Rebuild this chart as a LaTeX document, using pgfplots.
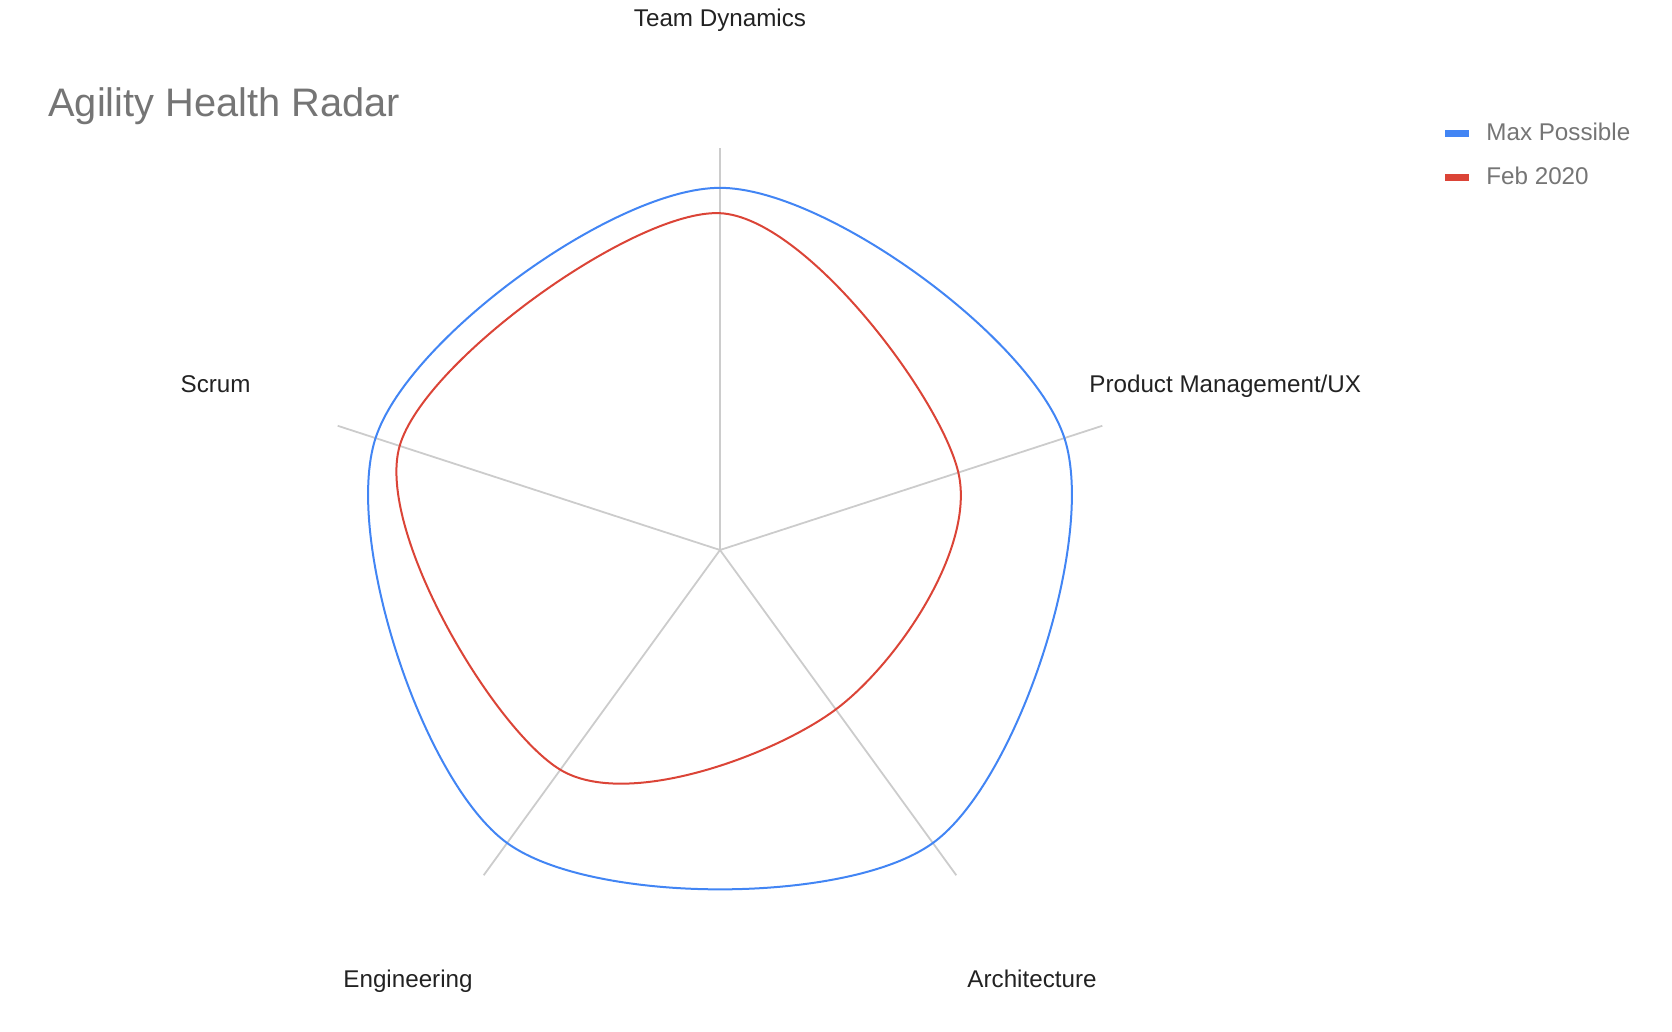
\documentclass[border=0pt]{standalone}
\usepackage{pgfplots}
\pgfplotsset{compat=1.18}
\usepgfplotslibrary{polar}
\usepackage{fontspec}
\setmainfont{Liberation Sans}
\definecolor{maxblue}{HTML}{4285F4}
\definecolor{febred}{HTML}{DB4437}
\definecolor{spoke}{HTML}{CCCCCC}
\definecolor{titlegray}{HTML}{757575}
\definecolor{labelblack}{HTML}{222222}
\begin{document}
\begin{tikzpicture}
\path[use as bounding box] (0pt,0pt) rectangle (836pt,-516pt);
\begin{polaraxis}[
  at={(360pt,-275pt)}, anchor=origin,
  scale only axis, width=402pt, height=402pt,
  ymin=0, ymax=5.55,
  hide axis, clip=false,
]
\addplot[spoke, line width=0.9pt] coordinates {(90,0) (90,5.55)};
\addplot[spoke, line width=0.9pt] coordinates {(18,0) (18,5.55)};
\addplot[spoke, line width=0.9pt] coordinates {(-54,0) (-54,5.55)};
\addplot[spoke, line width=0.9pt] coordinates {(-126,0) (-126,5.55)};
\addplot[spoke, line width=0.9pt] coordinates {(-198,0) (-198,5.55)};
% Max Possible
\addplot[maxblue, line width=1pt, smooth cycle, tension=0.55] coordinates {
  (90,5) (18,5) (-54,5) (-126,5) (-198,5)
};
% Feb 2020
\addplot[febred, line width=1pt, smooth cycle, tension=0.55] coordinates {
  (90,4.65) (18,3.46) (-54,2.72) (-126,3.75) (-198,4.65)
};
\end{polaraxis}
\node[anchor=base west, inner sep=0pt, text=titlegray, font=\fontsize{19.9pt}{23pt}\selectfont] at (24pt,-58.5pt) {Agility Health Radar};
\begin{scope}[every node/.style={inner sep=0pt, text=labelblack, font=\fontsize{12.1pt}{14pt}\selectfont}]
\node[anchor=base] at (360pt,-13.5pt) {Team Dynamics};
\node[anchor=base west] at (544.5pt,-196.5pt) {Product Management/UX};
\node[anchor=base east] at (125.5pt,-196.5pt) {Scrum};
\node[anchor=base] at (204pt,-493.5pt) {Engineering};
\node[anchor=base] at (516pt,-493.5pt) {Architecture};
\end{scope}
\draw[maxblue, line width=3.5pt] (722.5pt,-67pt) -- (734.5pt,-67pt);
\draw[febred, line width=3.5pt] (722.5pt,-89pt) -- (734.5pt,-89pt);
\node[anchor=base west, inner sep=0pt, text=titlegray, font=\fontsize{12.1pt}{14pt}\selectfont] at (743pt,-70.5pt) {Max Possible};
\node[anchor=base west, inner sep=0pt, text=titlegray, font=\fontsize{12.1pt}{14pt}\selectfont] at (743pt,-92.5pt) {Feb 2020};
\end{tikzpicture}
\end{document}
